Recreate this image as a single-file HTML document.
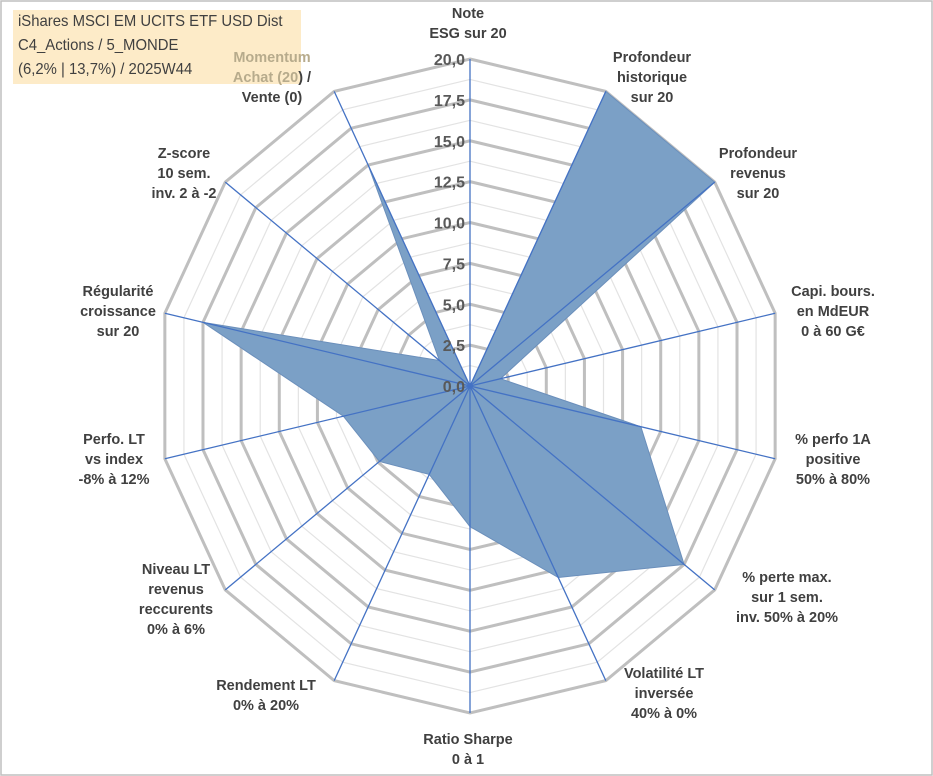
<!DOCTYPE html>
<html><head><meta charset="utf-8"><style>
body{margin:0;background:#fff;}
#wrap{position:relative;width:933px;height:776px;overflow:hidden;font-family:"Liberation Sans",Arial,sans-serif;}
svg{position:absolute;left:0;top:0;}
.lbl{position:absolute;transform:translate(-50%,0);text-align:center;font-weight:bold;font-size:14.5px;line-height:20px;color:#404040;white-space:nowrap;}
#title{position:absolute;left:13px;top:10px;width:288px;height:74px;background:#fdebc8;}
#title div{position:absolute;left:5px;top:0;font-size:16px;line-height:24px;color:#404040;white-space:nowrap;transform:scaleX(0.93);transform-origin:0 0;}
</style></head><body>
<div id="wrap">
<svg id="chart" width="933" height="776"></svg>
<div id="title"><div>iShares MSCI EM UCITS ETF USD Dist<br>C4_Actions / 5_MONDE<br>(6,2% | 13,7%) / 2025W44</div></div>
<div id="labels"></div>
</div>
<script>
const categories=["Note<br>ESG sur 20","Profondeur<br>historique<br>sur 20","Profondeur<br>revenus<br>sur 20","Capi. bours.<br>en MdEUR<br>0 à 60 G€","% perfo 1A<br>positive<br>50% à 80%","% perte max.<br>sur 1 sem.<br>inv. 50% à 20%","Volatilité LT<br>inversée<br>40% à 0%","Ratio Sharpe<br>0 à 1","Rendement LT<br>0% à 20%","Niveau LT<br>revenus<br>reccurents<br>0% à 6%","Perfo. LT<br>vs index<br>-8% à 12%","Régularité<br>croissance<br>sur 20","Z-score<br>10 sem.<br>inv. 2 à -2","<span style='color:#b7ab8c'>Momentum<br>Achat (20</span>) /<br>Vente (0)"];
const values=[0,20,20,2,11.2,17.5,13,8.6,6,7.4,8.3,17.5,2.5,15];
const tickLabels=["0,0","2,5","5,0","7,5","10,0","12,5","15,0","17,5","20,0"];
const labelPos=[[468,4],[652,48],[758,144],[833,282],[833,430],[787,568],[664,664],[468,730],[266,676],[176,560],[114,430],[118,282],[184,144],[272,48]];
const cx=470,cy=386,RX=313,RY=327,maxV=20,N=categories.length;
const svg=document.getElementById('chart');const NS="http://www.w3.org/2000/svg";
function ang(i){return i*2*Math.PI/N;}
function pt(i,v){const f=v/maxV;return [cx+f*RX*Math.sin(ang(i)),cy-f*RY*Math.cos(ang(i))];}
function el(t,a){const e=document.createElementNS(NS,t);for(const k in a)e.setAttribute(k,a[k]);svg.appendChild(e);return e;}
const frame=el('rect',{x:1,y:1,width:931,height:774,fill:'none',stroke:'#bfbfbf','stroke-width':1.5});


for(let k=1;k<=16;k++){const v=k*1.25;const p=[];for(let i=0;i<N;i++)p.push(pt(i,v).join(','));
const major=k%2===0;
const g=el('polygon',{points:p.join(' '),fill:'none',stroke:major?'#bfbfbf':'#e3e3e3','stroke-width':major?3:1.2});

}
const dp=values.map((v,i)=>pt(i,v).join(','));
const area=el('polygon',{points:dp.join(' '),fill:'#7ba0c6',stroke:'#6b8fbb','stroke-width':1});


for(let i=0;i<N;i++){const e=pt(i,maxV);const l=el('line',{x1:cx,y1:cy,x2:e[0],y2:e[1],stroke:'#4472c4','stroke-width':1.3});

}
tickLabels.forEach((t,k)=>{const y=cy-k*2.5/maxV*RY;const tx=el('text',{x:cx-5,y:y+6,'text-anchor':'end','font-size':16,'font-weight':'bold',fill:'#595959','font-family':'Liberation Sans, sans-serif'});tx.textContent=t;

});
const lw=document.getElementById('labels');
categories.forEach((c,i)=>{const d=document.createElement('div');d.className='lbl';d.innerHTML=c;d.style.left=labelPos[i][0]+'px';d.style.top=labelPos[i][1]+'px';


lw.appendChild(d);});
</script>
</body></html>
